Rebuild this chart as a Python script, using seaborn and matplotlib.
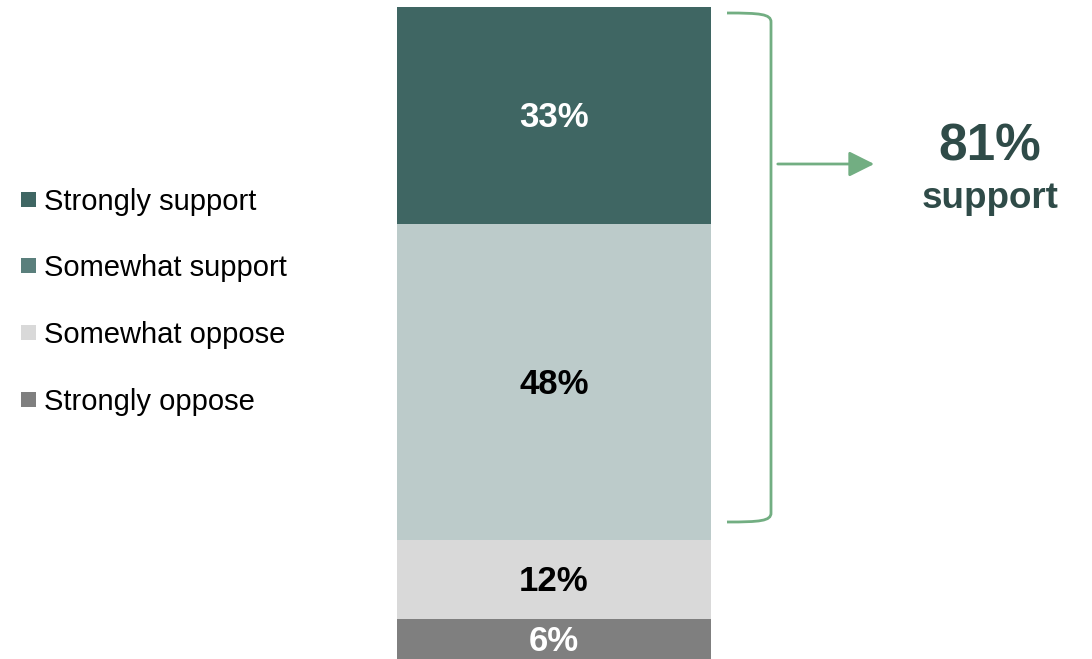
import matplotlib
matplotlib.use("Agg")
import matplotlib.pyplot as plt
import seaborn as sns
import pandas as pd
from matplotlib.patches import Rectangle, FancyArrowPatch
from matplotlib.path import Path
from matplotlib.patches import PathPatch
from matplotlib.transforms import offset_copy

# Survey responses, listed from top of the stack to bottom
categories = ["Strongly support", "Somewhat support", "Somewhat oppose", "Strongly oppose"]
values = [33, 48, 12, 6]
bar_colors = ["#3F6663", "#BCCBCA", "#D9D9D9", "#7F7F7F"]
legend_colors = ["#3F6663", "#5A7F7C", "#D9D9D9", "#7F7F7F"]
label_colors = ["white", "black", "black", "white"]
total_support = 81
support_caption = "support"

sns.set_theme(style="white")
plt.rcParams["font.family"] = ["Liberation Sans", "DejaVu Sans"]

W, H = 1092, 659
fig = plt.figure(figsize=(W / 100, H / 100), dpi=100)

# Single stacked column
ax = fig.add_axes([397 / W, 0, 314 / W, 652 / H])
bottoms = []
acc = 0
for v in reversed(values):
    bottoms.insert(0, acc)
    acc += v

# Labels sit a touch below the geometric centre of each segment
label_tf = offset_copy(ax.transData, fig=fig, x=0, y=-2, units="dots")

df = pd.DataFrame({"group": [""] * len(values), "value": values, "cat": categories})
for i, row in df.iterrows():
    sns.barplot(x=[row["group"]], y=[row["value"]], bottom=bottoms[i], color=bar_colors[i],
                width=1.0, saturation=1, ax=ax, edgecolor="none", linewidth=0)
    ax.text(0, bottoms[i] + row["value"] / 2, f"{row['value']}%", ha="center", va="center",
            fontsize=25, fontweight="bold", color=label_colors[i], transform=label_tf)

ax.set_xlim(-0.5, 0.5)
ax.set_ylim(0, sum(values))
ax.axis("off")

# Overlay in pixel coordinates for legend, bracket and callout
ov = fig.add_axes([0, 0, 1, 1])
ov.set_xlim(0, W)
ov.set_ylim(H, 0)
ov.axis("off")

row_y = [200, 266, 333, 400]
for y, lab, c in zip(row_y, categories, legend_colors):
    ov.add_patch(Rectangle((21, y - 8), 15, 15, facecolor=c, edgecolor="none"))
    ov.text(44, y + 2, lab, ha="left", va="center", fontsize=21, color="black")

green = "#72AE82"
bracket = Path(
    [(727, 13), (760, 13), (771, 14), (771, 22),
     (771, 513), (771, 521), (760, 522), (727, 522)],
    [Path.MOVETO, Path.CURVE4, Path.CURVE4, Path.CURVE4,
     Path.LINETO, Path.CURVE4, Path.CURVE4, Path.CURVE4],
)
ov.add_patch(PathPatch(bracket, facecolor="none", edgecolor=green, linewidth=2))

ov.add_patch(FancyArrowPatch((775, 164), (877, 164), arrowstyle="-|>,head_length=1.1,head_width=0.55",
                             mutation_scale=14, color=green, linewidth=2))

ov.text(990, 147, f"{total_support}%", ha="center", va="center", fontsize=37,
        fontweight="bold", color="#2F4B48")
ov.text(990, 199, support_caption, ha="center", va="center", fontsize=26.5,
        fontweight="bold", color="#2F4B48")

fig.savefig("out.png", dpi=100, facecolor="white")
